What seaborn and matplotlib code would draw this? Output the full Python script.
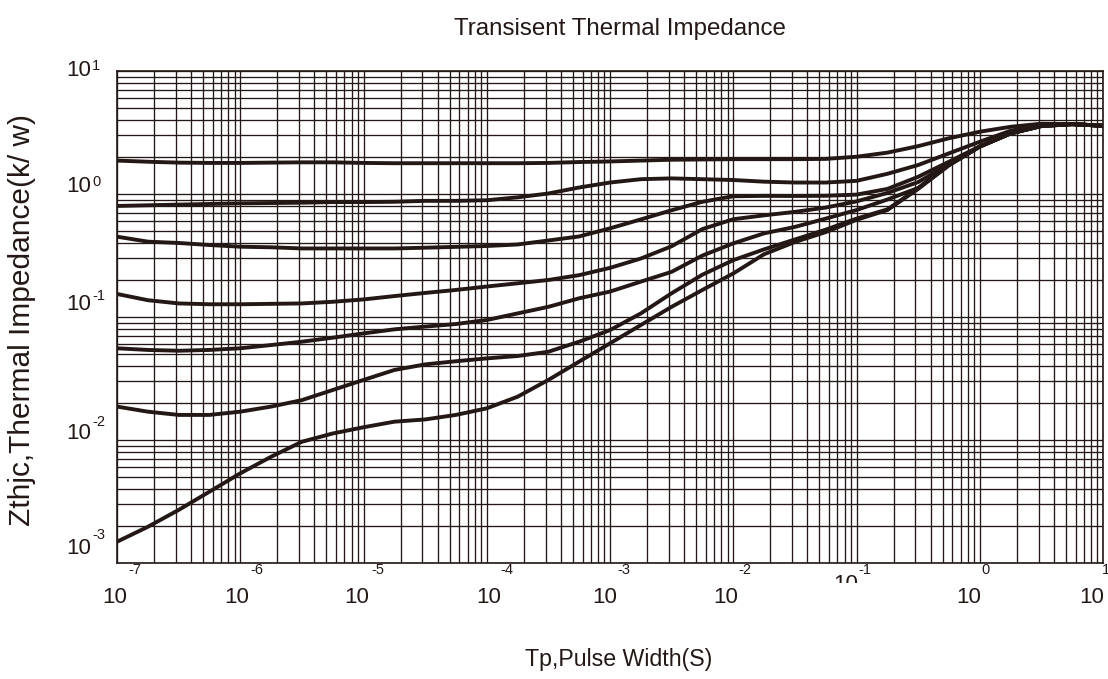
import numpy as np
import pandas as pd
import seaborn as sns
import matplotlib.pyplot as plt
from matplotlib.ticker import LogLocator, NullFormatter
from matplotlib.transforms import offset_copy, Bbox

# pulse width (s), quarter-decade steps from 1e-7 to 10
tp = [1e-7, 1.78e-7, 3.16e-7, 5.62e-7,
      1e-6, 1.78e-6, 3.16e-6, 5.62e-6,
      1e-5, 1.78e-5, 3.16e-5, 5.62e-5,
      1e-4, 1.78e-4, 3.16e-4, 5.62e-4,
      1e-3, 1.78e-3, 3.16e-3, 5.62e-3,
      1e-2, 1.78e-2, 3.16e-2, 5.62e-2,
      1e-1, 1.78e-1, 3.16e-1, 5.62e-1,
      1.0, 1.78, 3.16, 5.62, 10.0]

# Zthjc (K/W), top to bottom
zth_1 = [1.87, 1.83, 1.80, 1.79, 1.79, 1.80, 1.81, 1.81, 1.79, 1.78, 1.78,
         1.78, 1.78, 1.78, 1.79, 1.82, 1.84, 1.87, 1.90, 1.91, 1.92, 1.92,
         1.92, 1.93, 2.01, 2.17, 2.45, 2.84, 3.21, 3.52, 3.73, 3.70, 3.59]
zth_2 = [0.80, 0.81, 0.82, 0.83, 0.84, 0.845, 0.85, 0.86, 0.86, 0.865, 0.88,
         0.88, 0.89, 0.94, 1.01, 1.13, 1.24, 1.32, 1.34, 1.32, 1.30, 1.26,
         1.24, 1.24, 1.28, 1.46, 1.72, 2.14, 2.66, 3.27, 3.64, 3.70, 3.59]
zth_3 = [0.45, 0.41, 0.40, 0.385, 0.373, 0.369, 0.361, 0.361, 0.361, 0.361, 0.366,
         0.372, 0.378, 0.389, 0.419, 0.452, 0.526, 0.622, 0.738, 0.865, 0.959, 0.966,
         0.964, 0.968, 0.989, 1.10, 1.38, 1.83, 2.44, 3.13, 3.59, 3.70, 3.59]
zth_4 = [0.154, 0.137, 0.129, 0.127, 0.127, 0.128, 0.129, 0.133, 0.139, 0.148, 0.157,
         0.166, 0.177, 0.188, 0.200, 0.219, 0.251, 0.299, 0.376, 0.519, 0.624, 0.671,
         0.716, 0.776, 0.871, 1.02, 1.25, 1.74, 2.43, 3.11, 3.57, 3.70, 3.59]
zth_5 = [0.0557, 0.0540, 0.0532, 0.0540, 0.0557, 0.0592, 0.0630, 0.0679, 0.0736, 0.0794, 0.0836,
         0.0877, 0.0946, 0.107, 0.121, 0.142, 0.161, 0.194, 0.233, 0.316, 0.397, 0.479,
         0.540, 0.631, 0.741, 0.902, 1.12, 1.73, 2.43, 3.11, 3.57, 3.70, 3.59]
zth_6 = [0.0187, 0.0170, 0.0160, 0.0160, 0.0170, 0.0187, 0.0211, 0.0255, 0.0308, 0.0371, 0.0412,
         0.0437, 0.0461, 0.0482, 0.0522, 0.0630, 0.0783, 0.107, 0.156, 0.221, 0.290, 0.355,
         0.427, 0.513, 0.631, 0.750, 1.11, 1.72, 2.43, 3.11, 3.57, 3.70, 3.59]
zth_7 = [0.00149, 0.00197, 0.00270, 0.00380, 0.00536, 0.00731, 0.00968, 0.0113, 0.0127, 0.0141, 0.0147,
         0.0160, 0.0181, 0.0225, 0.0308, 0.0434, 0.0611, 0.0861, 0.121, 0.166, 0.226, 0.324,
         0.407, 0.490, 0.617, 0.741, 1.10, 1.71, 2.43, 3.11, 3.57, 3.70, 3.59]

x_exps = [-7, -6, -5, -4, -3, -2, -1, 0, 1]
y_exps = [-3, -2, -1, 0, 1]

ink = '#231815'

curves = [zth_1, zth_2, zth_3, zth_4, zth_5, zth_6, zth_7]
df = pd.concat([pd.DataFrame({'tp': tp, 'zth': z, 'curve': i}) for i, z in enumerate(curves)])

sns.set_style("white")
plt.rcParams['font.family'] = ['Liberation Sans', 'DejaVu Sans']

fig = plt.figure(figsize=(11.08, 6.79), dpi=100)
ax = fig.add_axes([0.1056, 0.1708, 0.8899, 0.7246])

sns.lineplot(data=df, x='tp', y='zth', units='curve', estimator=None,
             color=ink, lw=2.8, sort=False, ax=ax, legend=False)

ax.set_xscale('log')
ax.set_yscale('log')
ax.set_xlim(1e-7, 10)
ax.set_ylim(1e-3, 10)
ax.xaxis.set_major_locator(LogLocator(base=10, numticks=20))
ax.xaxis.set_minor_locator(LogLocator(base=10, subs=np.arange(2, 10), numticks=100))
ax.yaxis.set_major_locator(LogLocator(base=10, numticks=20))
ax.yaxis.set_minor_locator(LogLocator(base=10, subs=np.arange(2, 10), numticks=100))
ax.grid(which='both', color=ink, lw=0.95)
ax.set_axisbelow(True)
for s in ax.spines.values():
    s.set_color(ink)
    s.set_linewidth(1.2)
ax.tick_params(which='major', length=3, width=1, color=ink, direction='out',
               labelbottom=False, labelleft=False)
ax.tick_params(which='minor', length=0)
ax.xaxis.set_minor_formatter(NullFormatter())
ax.yaxis.set_minor_formatter(NullFormatter())
ax.set_xlabel('')
ax.set_ylabel('')

# hand-placed "10" + exponent labels, offsets in pixels
x_base_dx = [-2, -3.5, -6.5, 2, -5, -8, -11, -11.5, -11]
x_exp_dx = [11, 10, 8, 14, 7, 5, 2, 2, -1]
xt = ax.get_xaxis_transform()
for e, bdx, edx in zip(x_exps, x_base_dx, x_exp_dx):
    base_dy = -21.5 if e == -1 else -34
    t = ax.text(10.0 ** e, 0, '10', fontsize=16, color=ink, ha='center', va='center',
                transform=offset_copy(xt, fig=fig, x=bdx, y=base_dy, units='dots'))
    if e == -1:
        t.set_clip_box(Bbox.from_extents(800, 679 - 583, 900, 679 - 570))
        t.set_clip_on(True)
    ax.text(10.0 ** e, 0, str(e), fontsize=10.5, color=ink, ha='left', va='center',
            transform=offset_copy(xt, fig=fig, x=edx, y=-7, units='dots'))

y_base_dy = [14.5, 6.5, 13, 8, 1]
y_exp_dy = [28, 18.5, 21, 12.5, 5.5]
yt = ax.get_yaxis_transform()
for e, bdy, edy in zip(y_exps, y_base_dy, y_exp_dy):
    ax.text(0, 10.0 ** e, '10', fontsize=16, color=ink, ha='right', va='center',
            transform=offset_copy(yt, fig=fig, x=-26, y=bdy, units='dots'))
    ax.text(0, 10.0 ** e, str(e), fontsize=10.5, color=ink, ha='left', va='center',
            transform=offset_copy(yt, fig=fig, x=-25, y=edy, units='dots'))

fig.text(0.5596, 0.957, 'Transisent Thermal Impedance', fontsize=17.4, color=ink,
         ha='center', va='center')
fig.text(0.558, 0.028, 'Tp,Pulse Width(S)', fontsize=16.7, color=ink,
         ha='center', va='center')
fig.text(0.0199, 0.5287, 'Zthjc,Thermal Impedance(k/ w)', fontsize=21.5, color=ink,
         ha='center', va='center', rotation=90)

fig.savefig('out.png', dpi=100)
